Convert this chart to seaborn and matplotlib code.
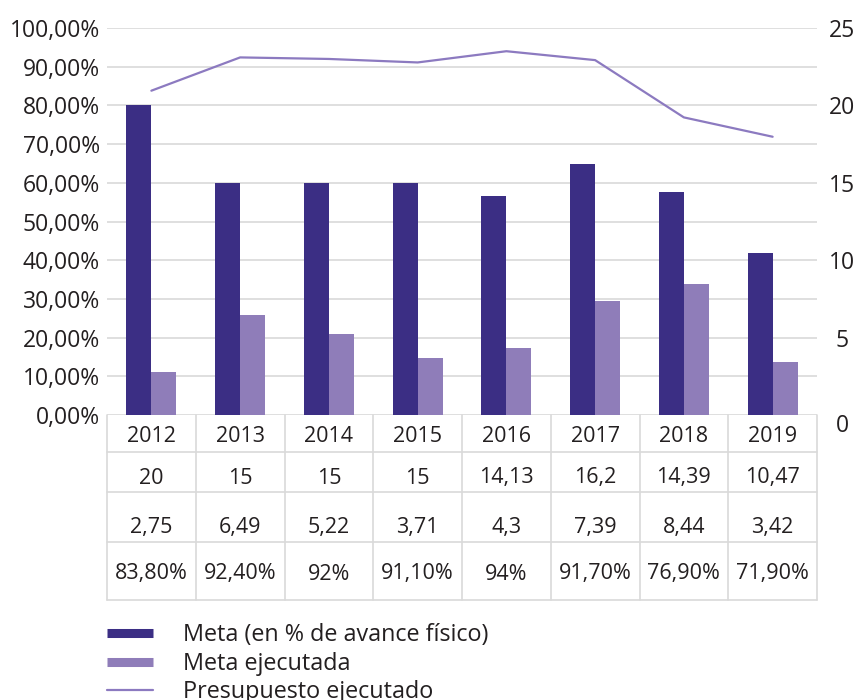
import numpy as np
import pandas as pd
import matplotlib
matplotlib.use("Agg")
import matplotlib.pyplot as plt
from matplotlib.lines import Line2D
from matplotlib.transforms import blended_transform_factory, ScaledTranslation
import seaborn as sns

years = ["2012", "2013", "2014", "2015", "2016", "2017", "2018", "2019"]
meta = [20, 15, 15, 15, 14.13, 16.2, 14.39, 10.47]
meta_ejecutada = [2.75, 6.49, 5.22, 3.71, 4.3, 7.39, 8.44, 3.42]
presupuesto = [83.8, 92.4, 92.0, 91.1, 94.0, 91.7, 76.9, 71.9]

meta_lbl = ["20", "15", "15", "15", "14,13", "16,2", "14,39", "10,47"]
ejec_lbl = ["2,75", "6,49", "5,22", "3,71", "4,3", "7,39", "8,44", "3,42"]
pres_lbl = ["83,80%", "92,40%", "92%", "91,10%", "94%", "91,70%", "76,90%", "71,90%"]

series_names = ["Meta (en % de avance físico)", "Meta ejecutada", "Presupuesto ejecutado"]
c_dark = "#3B2E84"
c_light = "#8F7DB9"
c_line = "#8C7AC0"
txt = "#231F20"
grid_c = "#D9D9D9"

sns.set_theme(style="white")
plt.rcParams["font.family"] = ["Open Sans", "DejaVu Sans"]

W, H = 863, 700
fig = plt.figure(figsize=(W / 100, H / 100), dpi=100)
L, R, T, B = 107, 817, 28, 415
ax = fig.add_axes([L / W, 1 - B / H, (R - L) / W, (B - T) / H])
ax2 = ax.twinx()

df = pd.DataFrame({
    "year": years * 2,
    "value": meta + meta_ejecutada,
    "serie": [series_names[0]] * 8 + [series_names[1]] * 8,
})
sns.barplot(data=df, x="year", y="value", hue="serie", ax=ax2,
            palette=[c_dark, c_light], saturation=1, width=0.563,
            linewidth=0, legend=False)

idx = np.arange(len(years))
sns.lineplot(x=idx, y=presupuesto, ax=ax, color=c_line, linewidth=1.6)

ax.set_xlim(-0.5, 7.5)
ax.set_ylim(0, 100)
ax2.set_ylim(0, 25)
ax.set_yticks(np.arange(0, 101, 10))
ax.set_yticklabels([f"{v},00%" for v in range(0, 101, 10)])
ax2.set_yticks(np.arange(0, 26, 5))
ax2.set_yticklabels([str(v) for v in range(0, 26, 5)])
ax.tick_params(axis="y", length=0, pad=5, labelsize=16.5, labelcolor=txt)
ax2.tick_params(axis="y", length=0, pad=18, labelsize=16.5, labelcolor=txt)
for lab in ax2.get_yticklabels():
    lab.set_horizontalalignment("center")
zero_lab = ax2.get_yticklabels()[0]
zero_lab.set_transform(zero_lab.get_transform() + ScaledTranslation(0, -8 / 100, fig.dpi_scale_trans))
ax.set_xticks([])
ax2.set_xticks([])
for a in (ax, ax2):
    a.set_xlabel("")
    a.set_ylabel("")
    for s in a.spines.values():
        s.set_visible(False)
ax.yaxis.grid(True, color=grid_c, linewidth=1.2)
ax.set_axisbelow(True)

# table below the plot
tr = blended_transform_factory(ax.transData, ax.transAxes)
def ay(px):
    return -(px - B) / (B - T)

table_bottom = ay(600)
for xb in np.arange(-0.5, 8.0, 1.0):
    ax.plot([xb, xb], [0, table_bottom], transform=tr, color=grid_c, lw=1.2, clip_on=False)
for yp in [452, 492, 542, 600]:
    ax.plot([-0.5, 7.5], [ay(yp)] * 2, transform=tr, color=grid_c, lw=1.2, clip_on=False)

rows = [(years, 437), (meta_lbl, 478), (ejec_lbl, 527), (pres_lbl, 574)]
for labels, yp in rows:
    for i, lab in enumerate(labels):
        ax.text(i, ay(yp), lab, transform=tr, ha="center", va="center",
                fontsize=15.5, color=txt)

handles = [
    Line2D([], [], color=c_dark, lw=6.5, solid_capstyle="butt"),
    Line2D([], [], color=c_light, lw=6.5, solid_capstyle="butt"),
    Line2D([], [], color=c_line, lw=1.6),
]
fig.legend(handles, series_names, loc="upper left",
           bbox_to_anchor=(L / W, 1 - 623 / H), frameon=False,
           handlelength=1.95, handletextpad=1.3, labelspacing=0.2,
           borderaxespad=0, borderpad=0, fontsize=16.8, labelcolor=txt)

fig.savefig("out.png", dpi=100)
